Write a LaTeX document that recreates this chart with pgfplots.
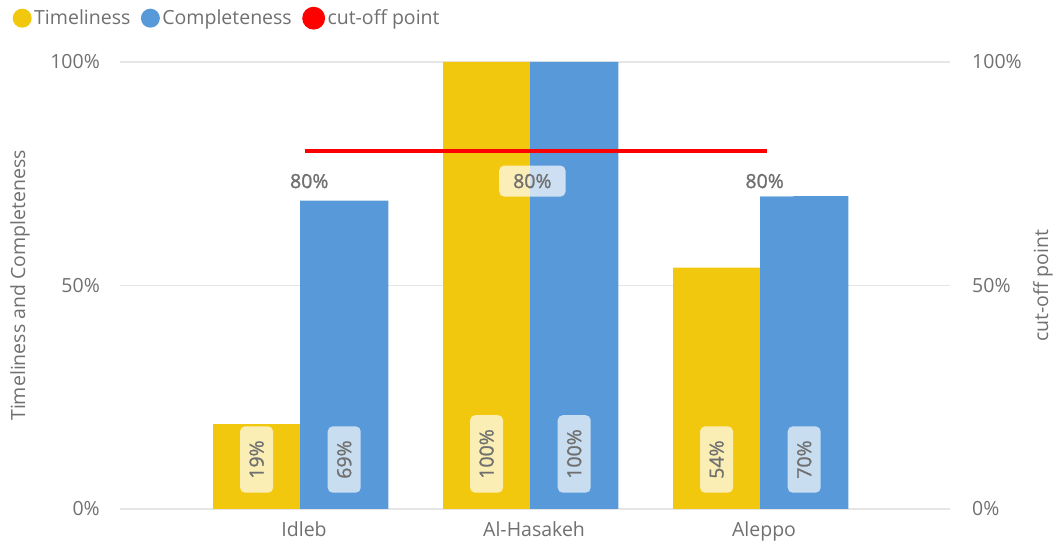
\documentclass[border=0pt]{standalone}
\usepackage{pgfplots}
\pgfplotsset{compat=1.18}
\usepackage{fontspec}
\setmainfont{Open Sans}
\newfontfamily\semib{Open Sans}[FakeBold=1.2]
\definecolor{ylw}{HTML}{F2C80F}
\definecolor{blu}{HTML}{5899DA}
\definecolor{ylwl}{HTML}{FBEEB5}
\definecolor{blul}{HTML}{C9DDF1}
\definecolor{txt}{HTML}{707070}
\definecolor{grd}{HTML}{E6E6E6}
\definecolor{cut}{HTML}{FD0000}
\newcommand\fs{\fontsize{19.5bp}{23bp}\selectfont}
\begin{document}
\fs
\begin{tikzpicture}[x=1bp,y=1bp]
\useasboundingbox (-120,-37) rectangle (939,509);
\begin{axis}[
  at={(0,0)}, anchor=south west,
  scale only axis, width=830bp, height=447bp,
  xmin=-0.783, xmax=2.826, ymin=0, ymax=100,
  axis line style={draw=none},
  major tick length=0,
  xtick={0,1,2}, xticklabels={Idleb,Al-Hasakeh,Aleppo},
  ytick={0,50,100}, yticklabels={0\%,50\%,100\%},
  ymajorgrids, grid style={grd, line width=1.2bp},
  tick label style={font=\fs, text=txt},
  yticklabel style={inner sep=0pt, xshift=-20bp},
  xticklabel style={inner sep=0pt, yshift=-12bp, xshift=4bp},
  ylabel={Timeliness and Completeness},
  ylabel style={at={(rel axis cs:-0.1205,0.5)}, anchor=center, rotate=0, text=txt, font=\fs},
  legend style={draw=none, fill=none, inner sep=0pt, at={(rel axis cs:-0.1295,1.098)}, anchor=west,
    font=\fs, text=txt,
    /tikz/every even column/.append style={column sep=8bp},
    nodes={inner xsep=2.5bp, font=\fs}},
  legend columns=-1, legend cell align=left,
  clip=false,
]
\addplot[ybar, bar width=0.378, bar shift=-0.189, fill=ylw, draw=none,
  legend image code/.code={\fill[ylw] (9.5bp,0) circle (9.5bp);}]
  coordinates {(0,19) (1,100) (2,54)};
\addlegendentry{Timeliness}
\addplot[ybar, bar width=0.384, bar shift=0.192, fill=blu, draw=none,
  legend image code/.code={\fill[blu] (9.5bp,0) circle (9.5bp);}]
  coordinates {(0,69) (1,100) (2,70)};
\addlegendentry{Completeness}
\addplot[cut, line width=3.8bp, mark=none,
  legend image code/.code={\fill[cut] (9.5bp,0) circle (9.5bp);}]
  coordinates {(0.02,80) (1,80) (2.03,80)};
\addlegendentry{cut-off point}
% labels inside bars
\addplot[draw=none, mark=none, forget plot, nodes near coords, point meta=explicit symbolic,
  every node near coord/.style={rotate=90, anchor=west, fill=ylwl, rounded corners=5bp,
    inner xsep=14bp, inner ysep=0pt, minimum height=33bp, text=txt, font=\semib\fs}]
  coordinates {(-0.189,3.6)[19\%] (0.811,3.6)[100\%] (1.811,3.6)[54\%]};
\addplot[draw=none, mark=none, forget plot, nodes near coords, point meta=explicit symbolic,
  every node near coord/.style={rotate=90, anchor=west, fill=blul, rounded corners=5bp,
    inner xsep=14bp, inner ysep=0pt, minimum height=33bp, text=txt, font=\semib\fs}]
  coordinates {(0.192,3.6)[69\%] (1.192,3.6)[100\%] (2.192,3.6)[70\%]};
% cut-off labels
\addplot[draw=none, mark=none, forget plot, nodes near coords, point meta=explicit symbolic,
  every node near coord/.style={anchor=north, yshift=-14bp, fill=white, fill opacity=0.7, text opacity=1,
    rounded corners=5bp, inner xsep=14bp, inner ysep=0pt, minimum height=31bp, text=txt, font=\semib\fs}]
  coordinates {(0.04,80)[80\%] (1.01,80)[80\%] (2.02,80)[80\%]};
\end{axis}
\begin{axis}[
  at={(0,0)}, anchor=south west,
  scale only axis, width=830bp, height=447bp,
  xmin=-0.783, xmax=2.826, ymin=0, ymax=100,
  axis x line=none, axis y line*=right,
  axis line style={draw=none},
  major tick length=0,
  ytick={0,50,100}, yticklabels={0\%,50\%,100\%},
  tick label style={font=\fs, text=txt},
  yticklabel style={inner sep=0pt, xshift=22bp},
  ylabel={cut-off point},
  ylabel style={at={(rel axis cs:1.112,0.5)}, anchor=center, rotate=0, text=txt, font=\fs},
]
\addplot[draw=none, mark=none] coordinates {(0,0) (2,100)};
\end{axis}
\end{tikzpicture}
\end{document}
